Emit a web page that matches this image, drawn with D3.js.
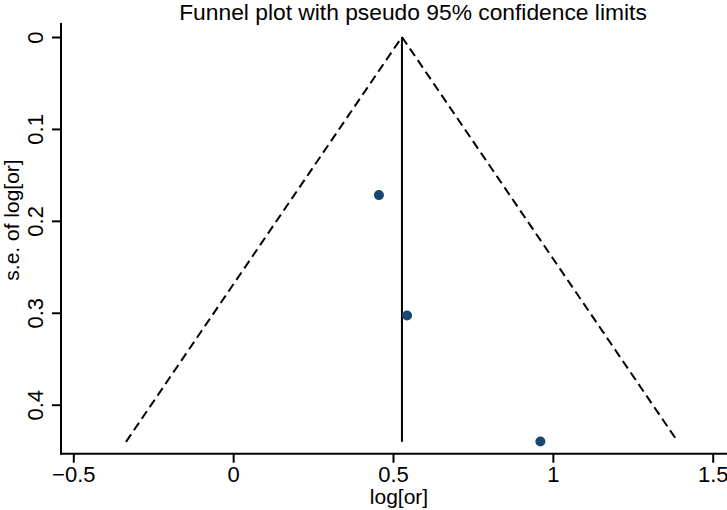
<!DOCTYPE html>
<html lang="en">
<head>
<meta charset="UTF-8">
<title>Funnel plot</title>
<style>
  body { margin: 0; background: #fff; overflow: hidden; }
  text { font-family: "Liberation Sans", Arial, Helvetica, sans-serif; fill: #000; }
</style>
</head>
<body>
<script src="https://cdn.jsdelivr.net/npm/d3@7"></script>
<script>
// study estimates
const logOr = [0.456, 0.544, 0.961];
const seLogOr = [0.172, 0.303, 0.440];
const pooled = 0.528;
const seMax = 0.4404;
const xTicks = [-0.5, 0, 0.5, 1, 1.5];
const yTicks = [0, 0.1, 0.2, 0.3, 0.4];

const W = 727, H = 510;
const svg = d3.select("body").append("svg").attr("width", W).attr("height", H);

const x = d3.scaleLinear().domain([-0.5, 1.5]).range([73.3, 712.7]);
const y = d3.scaleLinear().domain([0, 0.4]).range([37, 404.7]);

const left = 61, bottom = 453.7;

// axes
const yAxis = svg.append("g").attr("transform", `translate(${left},0)`)
    .call(d3.axisLeft(y).tickValues(yTicks).tickSize(9).tickSizeOuter(0).tickFormat(d3.format("")));
yAxis.select(".domain").remove();
yAxis.append("line").attr("x1", 0).attr("x2", 0).attr("y1", 23).attr("y2", bottom + 1)
    .attr("stroke", "#000").attr("stroke-width", 2);
yAxis.selectAll(".tick line").attr("stroke-width", 2);
yAxis.selectAll(".tick text")
    .attr("font-size", 22).attr("fill", "#000")
    .attr("transform", "rotate(-90)")
    .attr("x", 0).attr("y", -18).attr("dy", 0)
    .attr("text-anchor", "middle");

const xAxis = svg.append("g").attr("transform", `translate(0,${bottom})`)
    .call(d3.axisBottom(x).tickValues(xTicks).tickSize(9).tickSizeOuter(0).tickFormat(d3.format("")));
xAxis.select(".domain").remove();
xAxis.append("line").attr("x1", left - 1).attr("x2", W).attr("y1", 0).attr("y2", 0)
    .attr("stroke", "#000").attr("stroke-width", 2);
xAxis.selectAll(".tick line").attr("stroke-width", 2);
xAxis.selectAll(".tick text").attr("font-size", 22).attr("fill", "#000")
    .attr("y", 28).attr("dy", 0);

// pseudo 95% limits
const lo = pooled - 1.96 * seMax, hi = pooled + 1.96 * seMax;
const funnel = [[lo, seMax], [pooled, 0], [hi, seMax]];
svg.append("path")
    .attr("d", d3.line().x(d => x(d[0])).y(d => y(d[1]))(funnel))
    .attr("fill", "none").attr("stroke", "#000").attr("stroke-width", 2)
    .attr("stroke-dasharray", "9,5");

// pooled estimate line
svg.append("line")
    .attr("x1", x(pooled)).attr("x2", x(pooled))
    .attr("y1", y(0)).attr("y2", y(seMax))
    .attr("stroke", "#000").attr("stroke-width", 2);

// studies
svg.selectAll("circle.pt").data(logOr).enter().append("circle")
    .attr("class", "pt")
    .attr("cx", d => x(d)).attr("cy", (d, i) => y(seLogOr[i]))
    .attr("r", 5).attr("fill", "#1a476f");

// titles
svg.append("text").attr("x", 413).attr("y", 19.5).attr("text-anchor", "middle")
    .attr("font-size", 22.8).text("Funnel plot with pseudo 95% confidence limits");
svg.append("text").attr("x", 399).attr("y", 504).attr("text-anchor", "middle")
    .attr("font-size", 21).text("log[or]");
svg.append("text").attr("transform", "translate(19,220) rotate(-90)").attr("text-anchor", "middle")
    .attr("font-size", 21).text("s.e. of log[or]");
</script>
</body>
</html>
